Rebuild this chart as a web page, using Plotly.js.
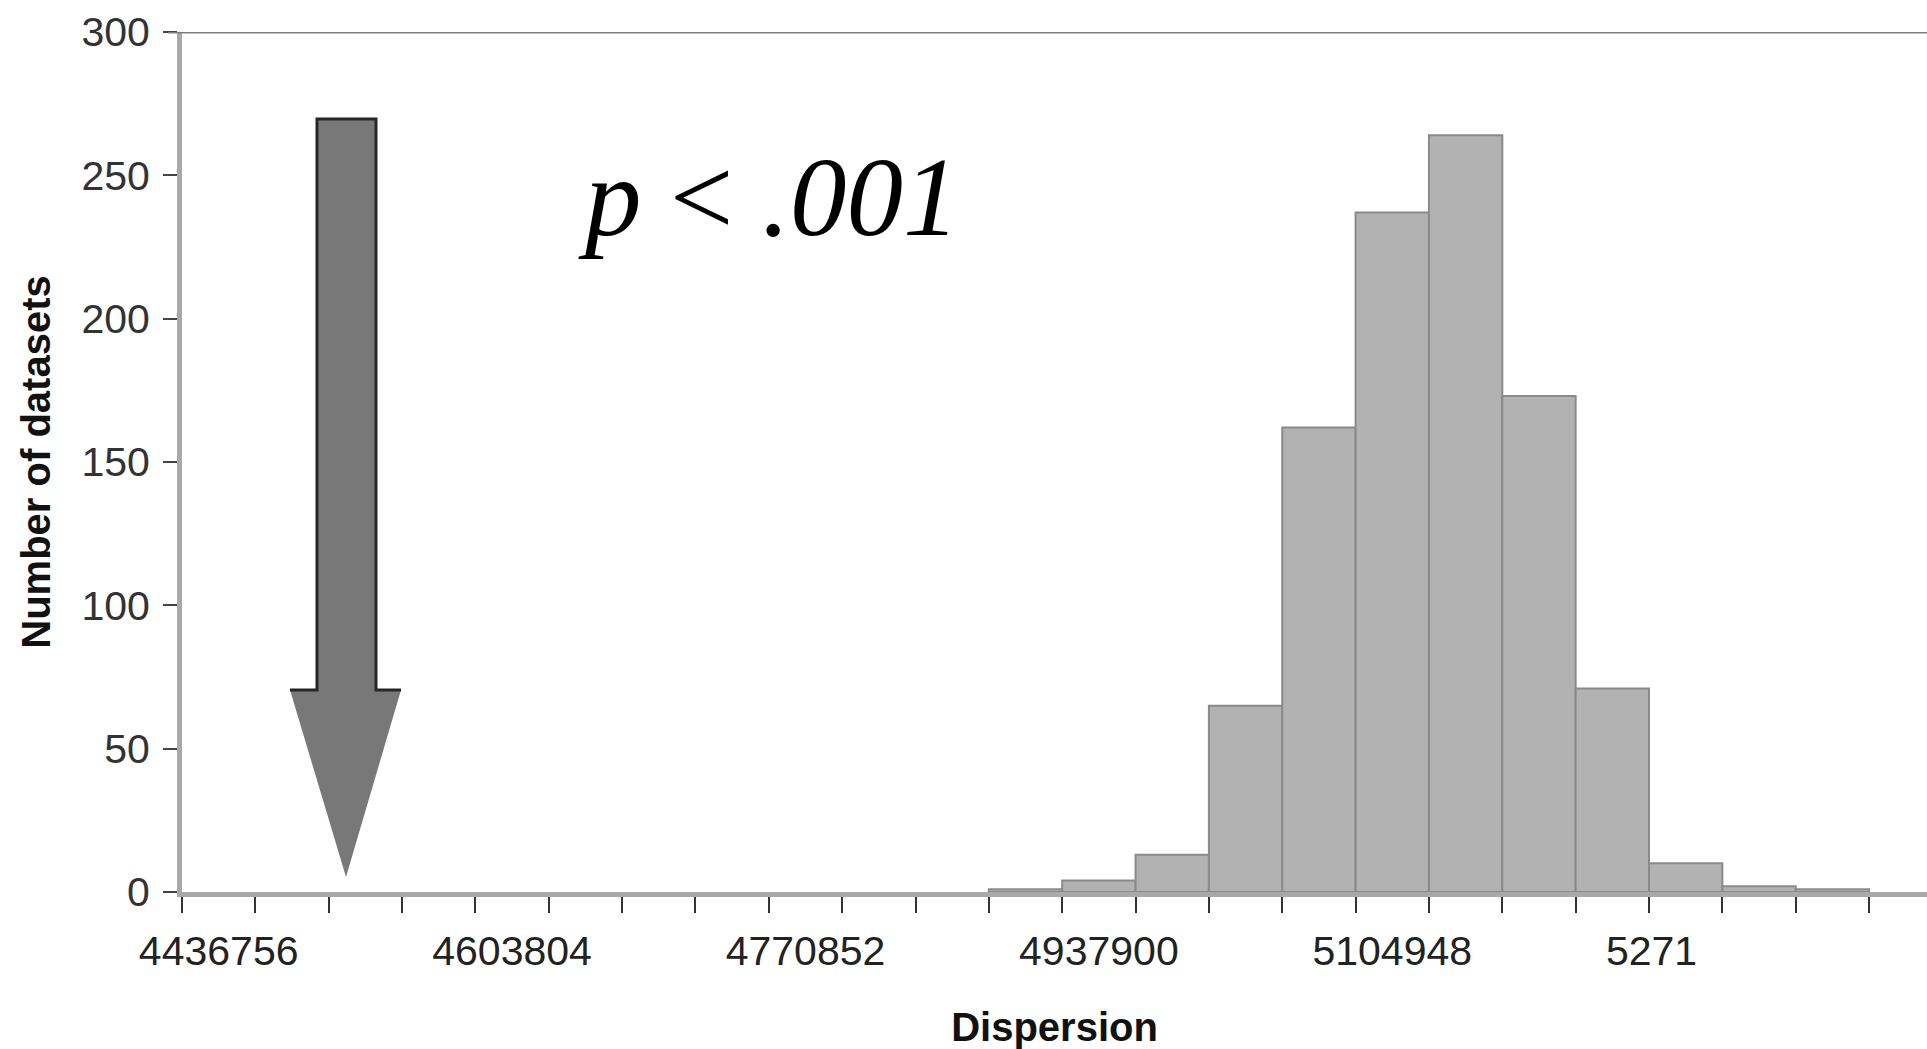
<!DOCTYPE html>
<html>
<head>
<meta charset="utf-8">
<script src="https://cdn.plot.ly/plotly-3.0.1.min.js"></script>
<style>
  html, body { margin: 0; padding: 0; background: #ffffff; }
  #chart { width: 1927px; height: 1049px; }
</style>
</head>
<body>
<div id="chart"></div>
<script>
// Histogram bins (lower value of each dispersion bin)
const categories = [
  '4436756','4478518','4520280','4562042','4603804','4645566','4687328','4729090',
  '4770852','4812614','4854376','4896138','4937900','4979662','5021424','5063186',
  '5104948','5146710','5188472','5230234','5271996','5313758','5355520'
];
// Number of datasets in each bin
const counts = [0,0,0,0,0,0,0,0,0,0,0,1,4,13,65,162,237,264,173,71,10,2,1];
// Tick labels shown (every 4th bin; the last one is truncated in the original)
const xTickText = [
  '4436756','','','','4603804','','','',
  '4770852','','','','4937900','','','',
  '5104948','','','','5271\u00a0\u00a0\u00a0\u00a0\u00a0\u00a0','',''
];
const yTickVals = [0,50,100,150,200,250,300];
const pLabel = '<i>p</i> < <i>.001</i>';

// plot-area geometry (pixels) used to place the decorative arrow
const L = 182, R = 1927, T = 32, B = 892;
const px = v => (v - L) / (R - L);
const py = v => (B - v) / (B - T);

const shaftL = 317, shaftR = 376, shaftTop = 119, shoulder = 690, headL = 290, headR = 401, tipX = 346, tipY = 877;
const arrowFill = 'M' + px(shaftL) + ',' + py(shaftTop) + ' L' + px(shaftR) + ',' + py(shaftTop) +
  ' L' + px(shaftR) + ',' + py(shoulder) + ' L' + px(headR) + ',' + py(shoulder) +
  ' L' + px(tipX) + ',' + py(tipY) + ' L' + px(headL) + ',' + py(shoulder) +
  ' L' + px(shaftL) + ',' + py(shoulder) + ' Z';
const arrowEdge = 'M' + px(headL) + ',' + py(shoulder) + ' L' + px(shaftL) + ',' + py(shoulder) +
  ' L' + px(shaftL) + ',' + py(shaftTop) + ' L' + px(shaftR) + ',' + py(shaftTop) +
  ' L' + px(shaftR) + ',' + py(shoulder) + ' L' + px(headR) + ',' + py(shoulder);

const trace = {
  type: 'bar',
  x: categories,
  y: counts,
  marker: {
    color: '#b2b2b2',
    line: { color: '#8a8a8a', width: counts.map(c => (c > 0 ? 2 : 0)) }
  },
  hoverinfo: 'x+y'
};

const font = 'Liberation Sans, Arial, sans-serif';

const layout = {
  width: 1927,
  height: 1049,
  margin: { l: L, r: 0, t: T, b: 1049 - B },
  paper_bgcolor: '#ffffff',
  plot_bgcolor: '#ffffff',
  bargap: 0,
  showlegend: false,
  xaxis: {
    type: 'category',
    range: [-0.5, 23.29],
    tickmode: 'array',
    tickvals: categories,
    ticktext: xTickText,
    tickson: 'boundaries',
    ticks: 'outside',
    ticklen: 16,
    tickwidth: 2,
    tickcolor: '#333333',
    tickangle: 0,
    ticklabelstandoff: 19,
    showline: true,
    linecolor: '#a9a9a9',
    linewidth: 5,
    showgrid: false,
    zeroline: false,
    tickfont: { family: font, size: 41, color: '#222222' },
    title: { text: '<b>Dispersion</b>', font: { family: font, size: 40, color: '#111111' }, standoff: 41 }
  },
  yaxis: {
    range: [0, 300],
    tickmode: 'array',
    tickvals: yTickVals,
    ticktext: yTickVals.map(String),
    ticks: 'outside',
    ticklen: 14,
    tickwidth: 2,
    tickcolor: '#444444',
    ticklabelstandoff: 5,
    showline: true,
    linecolor: '#a9a9a9',
    linewidth: 5,
    showgrid: false,
    zeroline: false,
    tickfont: { family: font, size: 41, color: '#333333' },
    title: { text: '<b>Number of datasets</b>', font: { family: font, size: 40, color: '#111111' }, standoff: 20 }
  },
  shapes: [
    { type: 'line', xref: 'paper', yref: 'y', x0: -0.008, x1: 1, y0: 300, y1: 300,
      line: { color: '#7c7c7c', width: 3 }, layer: 'above' },
    { type: 'path', xref: 'paper', yref: 'paper', path: arrowFill,
      fillcolor: '#787878', line: { width: 0 }, layer: 'above' },
    { type: 'path', xref: 'paper', yref: 'paper', path: arrowEdge,
      line: { color: '#262626', width: 3 }, layer: 'above' }
  ],
  annotations: [
    { xref: 'paper', yref: 'paper', x: px(768), y: py(196), xanchor: 'center', yanchor: 'middle',
      text: pLabel, showarrow: false,
      font: { family: 'Liberation Serif, Times New Roman, serif', size: 113, color: '#000000' } }
  ]
};

Plotly.newPlot('chart', [trace], layout, { displayModeBar: false, staticPlot: true });
</script>
</body>
</html>
